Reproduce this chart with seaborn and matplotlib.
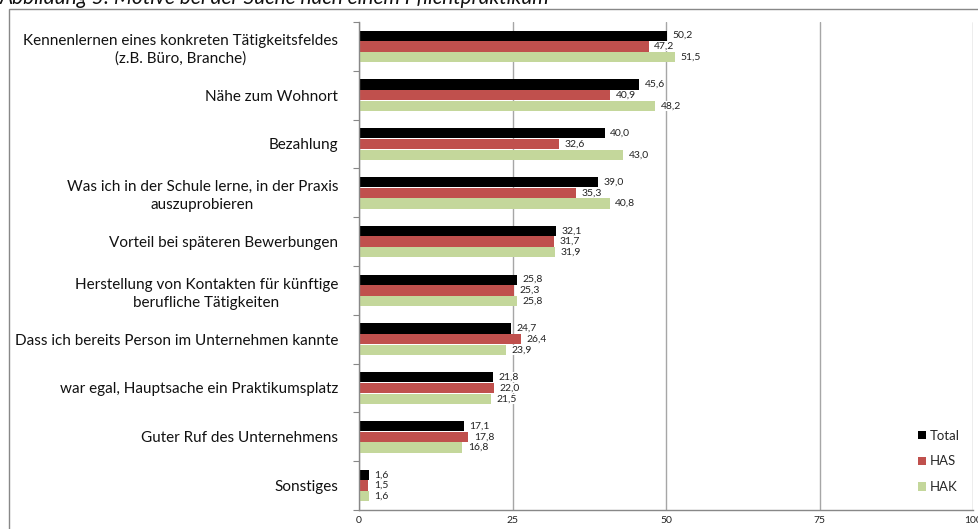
import numpy as np
import pandas as pd
import matplotlib
matplotlib.use("Agg")
import matplotlib.pyplot as plt
from matplotlib.patches import Rectangle
import seaborn as sns

# ==========================================
# Data
# ==========================================
categories = [
    "Kennenlernen eines konkreten Tätigkeitsfeldes\n(z.B. Büro, Branche)",
    "Nähe zum Wohnort",
    "Bezahlung",
    "Was ich in der Schule lerne, in der Praxis\nauszuprobieren",
    "Vorteil bei späteren Bewerbungen",
    "Herstellung von Kontakten für künftige\nberufliche Tätigkeiten",
    "Dass ich bereits Person im Unternehmen kannte",
    "war egal, Hauptsache ein Praktikumsplatz",
    "Guter Ruf des Unternehmens",
    "Sonstiges",
]
total = [50.2, 45.6, 40.0, 39.0, 32.1, 25.8, 24.7, 21.8, 17.1, 1.6]
has = [47.2, 40.9, 32.6, 35.3, 31.7, 25.3, 26.4, 22.0, 17.8, 1.5]
hak = [51.5, 48.2, 43.0, 40.8, 31.9, 25.8, 23.9, 21.5, 16.8, 1.6]
groups = ["Total", "HAS", "HAK"]
x_ticks = [0, 25, 50, 75, 100]

colors = {"Total": "#000000", "HAS": "#C0504D", "HAK": "#C4D79B"}

df = pd.DataFrame({
    "Motiv": categories * 3,
    "Schule": ["Total"] * 10 + ["HAS"] * 10 + ["HAK"] * 10,
    "Prozent": total + has + hak,
})

sns.set_theme(style="white")
plt.rcParams["font.family"] = ["Lato", "DejaVu Sans"]

fig = plt.figure(figsize=(9.79, 5.29), dpi=100)
ax = fig.add_axes([359 / 979, 1 - 510 / 529, (973 - 359) / 979, (510 - 22) / 529])

sns.barplot(data=df, y="Motiv", x="Prozent", hue="Schule", order=categories,
            hue_order=groups, palette=colors, orient="h", width=0.66,
            gap=0.04, saturation=1, edgecolor="none", ax=ax)

# value labels with German decimal comma
for cont in ax.containers:
    labels = [f"{b.get_width():.1f}".replace(".", ",") for b in cont]
    ax.bar_label(cont, labels=labels, padding=4, fontsize=7.5, color="#222222",
                 bbox=dict(facecolor="white", edgecolor="none", pad=0.3))

ax.set_xlim(0, 100)
ax.set_ylim(len(categories) - 0.5, -0.5)
ax.set_xticks(x_ticks)
ax.set_xticklabels([str(t) for t in x_ticks], fontsize=7.5, color="#222222")
ax.tick_params(axis="x", length=0, pad=4)
ax.set_xlabel("")
ax.set_ylabel("")

# category labels; ticks on group boundaries
ax.set_yticks(range(len(categories)))
ax.set_yticklabels(categories, fontsize=11, color="#111111",
                   multialignment="center", linespacing=1.35)
ax.set_yticks(np.arange(-0.5, len(categories), 1), minor=True)
ax.tick_params(axis="y", which="major", length=0, pad=15)
ax.tick_params(axis="y", which="minor", length=4, color="#888888", width=0.8, left=True)

ax.xaxis.grid(True, color="#A6A6A6", linewidth=1)
ax.set_axisbelow(True)
for side in ["top", "right"]:
    ax.spines[side].set_visible(False)
for side in ["left", "bottom"]:
    ax.spines[side].set_color("#888888")
    ax.spines[side].set_linewidth(1)

leg = ax.legend(loc="lower right", bbox_to_anchor=(0.998, 0.01), frameon=False,
                fontsize=9.5, handlelength=0.6, handleheight=0.6, handletextpad=0.3,
                labelspacing=1.05)

# outer chart frame and the cut-off title
fig.patches.append(Rectangle((9 / 979, -0.05), 1.1, 1 - 9 / 529 + 0.05,
                             transform=fig.transFigure, fill=False,
                             edgecolor="#888888", linewidth=1))
fig.text(0.0, 1 - 4.5 / 529, "Abbildung 5: Motive bei der Suche nach einem Pflichtpraktikum",
         fontsize=15, style="italic", va="baseline", ha="left", color="#111111")

fig.savefig("out.png", dpi=100)
